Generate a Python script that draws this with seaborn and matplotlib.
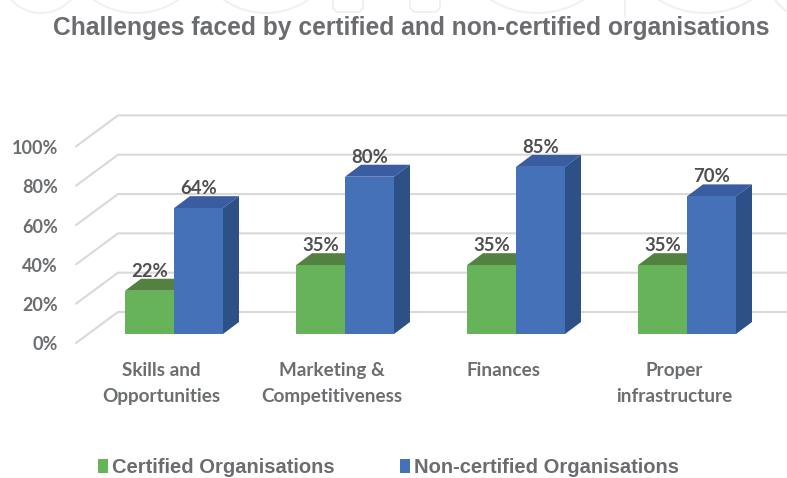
import matplotlib
matplotlib.use("Agg")
import matplotlib.pyplot as plt
import seaborn as sns
import pandas as pd
from matplotlib.patches import Polygon, Patch, Circle
from matplotlib.transforms import ScaledTranslation

categories = ["Skills and\nOpportunities", "Marketing &\nCompetitiveness", "Finances", "Proper\ninfrastructure"]
certified = [22, 35, 35, 35]
non_certified = [64, 80, 85, 70]
series_names = ["Certified Organisations", "Non-certified Organisations"]
y_ticks = [0, 20, 40, 60, 80, 100]

W, H = 787, 478
sns.set_theme(style="white")
fig = plt.figure(figsize=(W / 100, H / 100), dpi=100)

# faint background watermark shapes, in pixel coordinates
bg = fig.add_axes([0, 0, 1, 1], zorder=-1)
bg.set_xlim(0, W); bg.set_ylim(H, 0); bg.axis("off")
WM = "#F0F0F0"
for cx, r in [(41, 40), (136, 74), (266, 74), (537, 88), (705, 88)]:
    bg.add_patch(Circle((cx, 13 - r), r, fc="none", ec=WM, lw=1.4))
for x0, x1 in [(333, 363), (410, 440)]:
    bg.plot([x0, x0, x0 + 4, x1 - 4, x1, x1], [0, 8, 12, 12, 8, 0], color=WM, lw=1.4)
bg.plot([625, 625], [0, 17], color=WM, lw=1.4)
bg.add_patch(Circle((815, -30), 50, fc="none", ec=WM, lw=1.4))

# axes box in pixels
L, R, T, B = 76, 787, 100, 343
ax = fig.add_axes([L / W, 1 - B / H, (R - L) / W, (B - T) / H])
PX_X = 171.0            # px per category
PX_Y = 1.966            # px per percent
BASE = 334              # pixel row of 0%

df = pd.DataFrame({
    "cat": categories * 2,
    "val": certified + non_certified,
    "series": [series_names[0]] * 4 + [series_names[1]] * 4,
})
FRONT = ["#67B35A", "#4471B7"]
TOP = ["#538240", "#3A5CA1"]
SIDE = ["#4A7539", "#2D5087"]
sns.barplot(data=df, x="cat", y="val", hue="series", hue_order=series_names,
            palette=FRONT, width=0.573, gap=0, saturation=1, dodge=True,
            legend=False, ax=ax, zorder=3, linewidth=0, edgecolor="none")
ax.set_xlim((L - 174) / PX_X, (R - 174) / PX_X)
ax.set_ylim(-(B - BASE) / PX_Y, (BASE - T) / PX_Y)

# depth of the 3D look, in data units
DX, DY = 16 / PX_X, 12 / PX_Y
for i, cont in enumerate(ax.containers):
    for p in cont.patches:
        x0, x1, h = p.get_x(), p.get_x() + p.get_width(), p.get_height()
        ax.add_patch(Polygon([(x0, h), (x1, h), (x1 + DX, h + DY), (x0 + DX, h + DY)],
                             closed=True, fc=TOP[i], ec="none", zorder=2 + i * 0.5))
        ax.add_patch(Polygon([(x1, 0), (x1, h), (x1 + DX, h + DY), (x1 + DX, DY)],
                             closed=True, fc=SIDE[i], ec="none", zorder=2 + i * 0.5))
        ax.annotate(f"{h:.0f}%", (x0 + p.get_width() / 2, h), xytext=(0, 19.5 * 0.72),
                    textcoords="offset points", ha="center", va="center",
                    family="Lato", weight="bold", fontsize=13.3, color="#4F4F4F", zorder=6)

# wall lines: front stub up to back wall, then along the wall
GX, GY_BACK, GY_FRONT = 42 / PX_X, 22 / PX_Y, -9 / PX_Y
xl, xr = ax.get_xlim()
for v in y_ticks:
    ax.plot([xl, xl + GX, xr], [v + GY_FRONT, v + GY_BACK, v + GY_BACK],
            color="#D9D9D9", lw=1.5, zorder=1, clip_on=False, solid_joinstyle="miter")

ax.set_xlabel(""); ax.set_ylabel("")
ax.set_yticks(y_ticks)
ax.set_yticklabels([f"{v}%" for v in y_ticks], family="Lato", weight="bold",
                   fontsize=13, color="#6B6E70")
ax.tick_params(axis="y", length=0, pad=13)
off_y = ScaledTranslation(0, -9.5 / 100, fig.dpi_scale_trans)
for lab in ax.get_yticklabels():
    lab.set_transform(lab.get_transform() + off_y)

ax.set_xticks(range(4))
ax.set_xticklabels(categories, family="Lato", weight="bold", fontsize=13.6,
                   color="#6B6E70", linespacing=1.64, va="top")
ax.tick_params(axis="x", length=0, pad=13.5)
off_x = ScaledTranslation(-13 / 100, 0, fig.dpi_scale_trans)
for lab in ax.get_xticklabels():
    lab.set_transform(lab.get_transform() + off_x)
sns.despine(ax=ax, left=True, bottom=True)
ax.patch.set_alpha(0)

fig.text(411 / W, 1 - 28 / H, "Challenges faced by certified and non-certified organisations",
         family="Liberation Sans", weight="bold", fontsize=17.7, color="#6A6C6F",
         ha="center", va="center")

handles = [Patch(fc=FRONT[0], ec="none"), Patch(fc=FRONT[1], ec="none")]
fig.legend(handles, series_names, loc="center left", bbox_to_anchor=(98 / W, 1 - 467.5 / H),
           ncol=2, frameon=False, borderaxespad=0, borderpad=0, handlelength=0.5, handleheight=0.7,
           handletextpad=0.2, columnspacing=3.25,
           prop={"family": "Liberation Sans", "weight": "bold", "size": 14.5},
           labelcolor="#6A6C6F")

fig.savefig("out.png", dpi=100)
